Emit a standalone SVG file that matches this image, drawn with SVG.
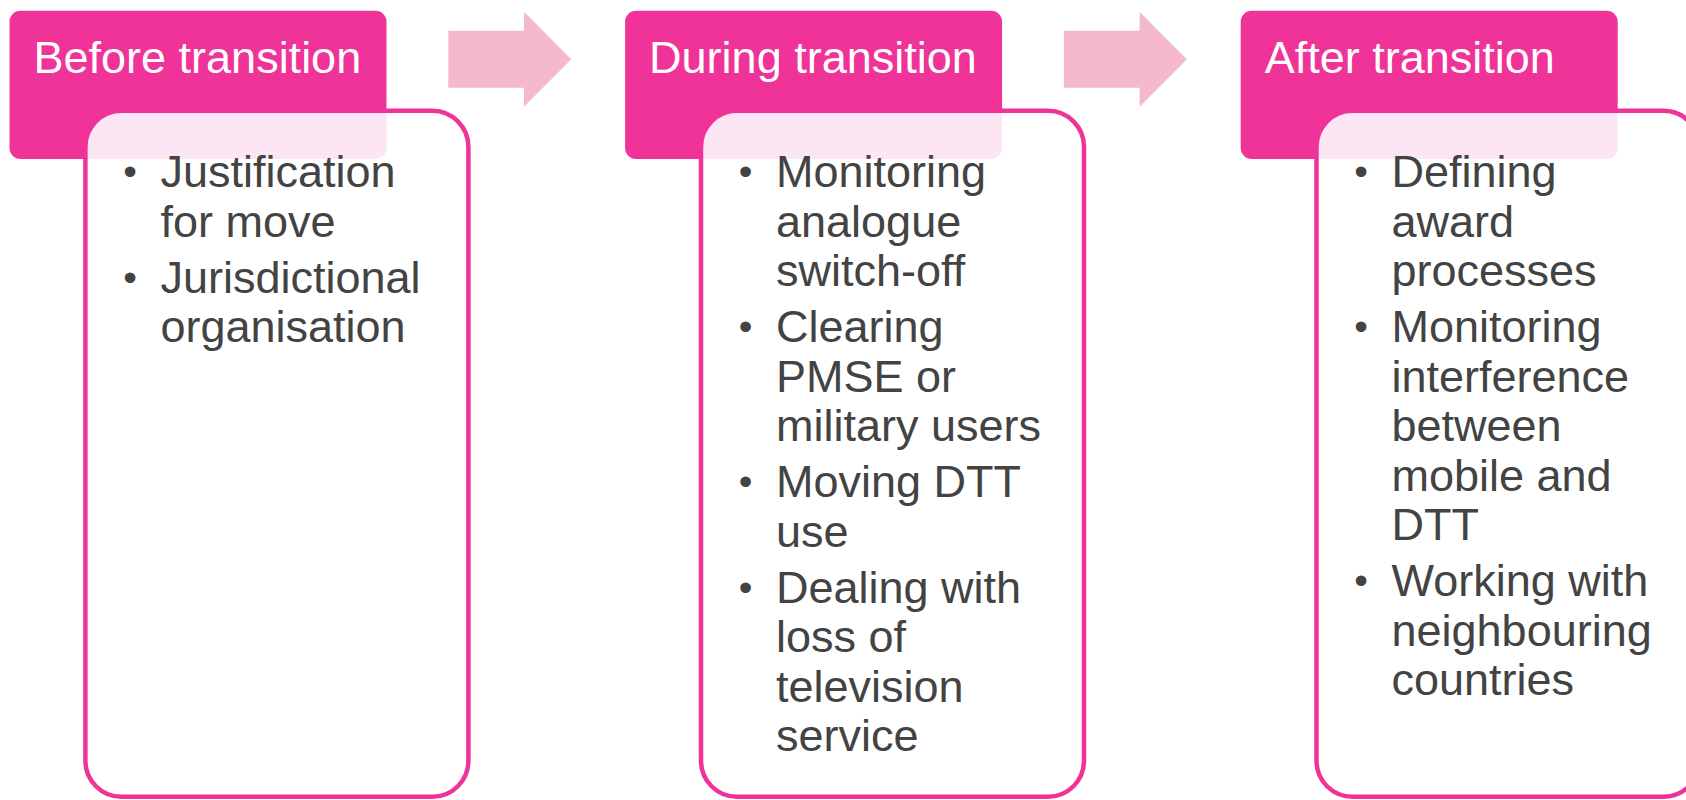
<svg xmlns="http://www.w3.org/2000/svg" width="1686" height="800" viewBox="0 0 1686 800">
<style>
.hdr{fill:#EF3399;}
.body{fill:#FFFFFF;fill-opacity:0.88;stroke:#EF3399;stroke-width:4.5;}
.ht{font-family:"Liberation Sans",Arial,sans-serif;font-size:45px;fill:#FFFFFF;}
.bt{font-family:"Liberation Sans",Arial,sans-serif;font-size:45px;fill:#434343;}
.bl{font-family:"Liberation Sans",Arial,sans-serif;font-size:39px;fill:#434343;text-anchor:middle;}
.arr{fill:#F4B9CC;}
</style>
<rect width="1686" height="800" fill="#FFFFFF"/>
<g id="connectors">
<polygon class="arr" points="448.3,30.7 524,30.7 524,11.7 571.3,59.3 524,106.7 524,87.7 448.3,87.7"/>
<polygon class="arr" points="1063.9,30.7 1139.6,30.7 1139.6,11.7 1186.9,59.3 1139.6,106.7 1139.6,87.7 1063.9,87.7"/>
</g>
<g id="before">
<rect class="hdr" x="9.5" y="10.7" width="377" height="148.3" rx="11"/>
<rect class="body" x="85.4" y="110.8" width="383" height="686" rx="36"/>
<text class="ht" x="33.5" y="73.3">Before transition</text>
<text class="bl" x="130" y="185">•</text>
<text class="bt" x="160.4" y="187">Justification</text>
<text class="bt" x="160.4" y="236.5">for move</text>
<text class="bl" x="130" y="290.5">•</text>
<text class="bt" x="160.4" y="292.5">Jurisdictional</text>
<text class="bt" x="160.4" y="342">organisation</text>
</g>
<g id="during">
<rect class="hdr" x="625.1" y="10.7" width="377" height="148.3" rx="11"/>
<rect class="body" x="701" y="110.8" width="383" height="686" rx="36"/>
<text class="ht" x="649.1" y="73.3">During transition</text>
<text class="bl" x="745.6" y="185">•</text>
<text class="bt" x="776" y="187">Monitoring</text>
<text class="bt" x="776" y="236.5">analogue</text>
<text class="bt" x="776" y="286">switch-off</text>
<text class="bl" x="745.6" y="340">•</text>
<text class="bt" x="776" y="342">Clearing</text>
<text class="bt" x="776" y="391.5">PMSE or</text>
<text class="bt" x="776" y="441">military users</text>
<text class="bl" x="745.6" y="495">•</text>
<text class="bt" x="776" y="497">Moving DTT</text>
<text class="bt" x="776" y="546.5">use</text>
<text class="bl" x="745.6" y="600.5">•</text>
<text class="bt" x="776" y="602.5">Dealing with</text>
<text class="bt" x="776" y="652">loss of</text>
<text class="bt" x="776" y="701.5">television</text>
<text class="bt" x="776" y="751">service</text>
</g>
<g id="after">
<rect class="hdr" x="1240.7" y="10.7" width="377" height="148.3" rx="11"/>
<rect class="body" x="1316.5" y="110.8" width="383" height="686" rx="36"/>
<text class="ht" x="1264.7" y="73.3">After transition</text>
<text class="bl" x="1361.1" y="185">•</text>
<text class="bt" x="1391.5" y="187">Defining</text>
<text class="bt" x="1391.5" y="236.5">award</text>
<text class="bt" x="1391.5" y="286">processes</text>
<text class="bl" x="1361.1" y="340">•</text>
<text class="bt" x="1391.5" y="342">Monitoring</text>
<text class="bt" x="1391.5" y="391.5">interference</text>
<text class="bt" x="1391.5" y="441">between</text>
<text class="bt" x="1391.5" y="490.5">mobile and</text>
<text class="bt" x="1391.5" y="540">DTT</text>
<text class="bl" x="1361.1" y="594">•</text>
<text class="bt" x="1391.5" y="596">Working with</text>
<text class="bt" x="1391.5" y="645.5">neighbouring</text>
<text class="bt" x="1391.5" y="695">countries</text>
</g>
</svg>
